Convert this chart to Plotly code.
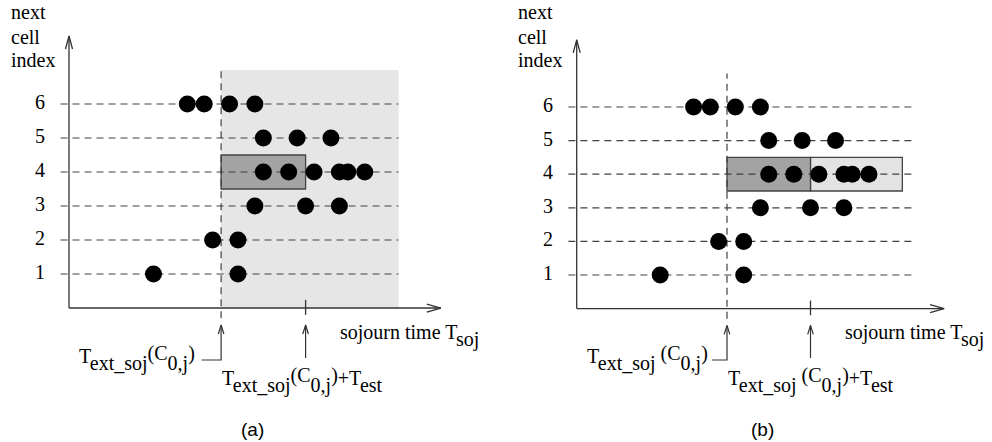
import plotly.graph_objects as go

# ---------------- data ----------------
ROWS = [1, 2, 3, 4, 5, 6]
TICK_LABELS = ["1", "2", "3", "4", "5", "6"]
# sojourn times of observed handoffs, per next-cell index
ROW1 = [5, 10]
ROW2 = [8.5, 10]
ROW3 = [11, 14, 16]
ROW4 = [11.5, 13, 14.5, 16, 16.5, 17.5]
ROW5 = [11.5, 13.5, 15.5]
ROW6 = [7, 8, 9.5, 11]
ROW_POINTS = [ROW1, ROW2, ROW3, ROW4, ROW5, ROW6]

T_EXT = 9          # T_ext_soj(C_0,j)
T_EST = 5          # T_est
WINDOW_END = 19.5  # end of the considered window
HIGHLIGHT_ROW = 4
Y_TOP = 7
Y_LABEL_LINES = ["next", "cell", "index"]

SERIF = "Liberation Serif"
SANS = "Liberation Sans"
AX_COL = "#333333"
DASH_COL = "#404040"
FS = 20


def sub(t):
    return '<span style="baseline-shift:-7px">' + t + '</span>'


def sup(t):
    return '<span style="baseline-shift:3px">' + t + '</span>'


fig = go.Figure()

panels = [
    dict(xa="x", ya="y", sx=16.9, sy=34.0, y0px=308.0, grid_end=19.5, conn=7.85, sp=""),
    dict(xa="x2", ya="y2", sx=16.7, sy=33.6, y0px=308.6, grid_end=20.1, conn=8.1, sp=" "),
]

shapes = []
annotations = []

for i, p in enumerate(panels):
    xa, ya = p["xa"], p["ya"]
    sx, sy = p["sx"], p["sy"]
    hw_x, hl_y = 3.5 / sx, 13 / sy
    hw_y, hl_x = 4.0 / sy, 14 / sx

    def ypx(px):
        return (p["y0px"] - px) / sy

    if i == 0:
        shapes.append(dict(type="rect", xref=xa, yref=ya, x0=T_EXT, x1=WINDOW_END,
                           y0=0, y1=Y_TOP, fillcolor="#e6e6e6", line_width=0, layer="below"))
    else:
        shapes.append(dict(type="rect", xref=xa, yref=ya, x0=T_EXT + T_EST, x1=WINDOW_END,
                           y0=HIGHLIGHT_ROW - 0.5, y1=HIGHLIGHT_ROW + 0.5,
                           fillcolor="#e3e3e3", line=dict(color="#444", width=1.3), layer="below"))
    shapes.append(dict(type="rect", xref=xa, yref=ya, x0=T_EXT, x1=T_EXT + T_EST,
                       y0=HIGHLIGHT_ROW - 0.5, y1=HIGHLIGHT_ROW + 0.5,
                       fillcolor="#a3a3a3", line=dict(color="#444", width=1.3), layer="below"))

    # dashed row lines
    gx, gy = [], []
    for r in ROWS:
        gx += [-0.5, p["grid_end"], None]
        gy += [r, r, None]
    fig.add_trace(go.Scatter(x=gx, y=gy, mode="lines", xaxis=xa, yaxis=ya,
                             line=dict(color=DASH_COL, width=1.2, dash="7px,5px"),
                             hoverinfo="skip"))
    fig.add_trace(go.Scatter(x=[T_EXT, T_EXT], y=[-0.3, Y_TOP], mode="lines", xaxis=xa, yaxis=ya,
                             line=dict(color=DASH_COL, width=1.2, dash="7px,5px"),
                             hoverinfo="skip"))

    # axes with open arrow heads
    ax_x = [0, 0, None, -hw_x, 0, hw_x, None, 0, 22, None, 22 - hl_x, 22, 22 - hl_x,
            None, T_EXT + T_EST, T_EXT + T_EST]
    ax_y = [0, 8, None, 8 - hl_y, 8, 8 - hl_y, None, 0, 0, None, hw_y, 0, -hw_y,
            None, -0.2, 0.24]
    fig.add_trace(go.Scatter(x=ax_x, y=ax_y, mode="lines", xaxis=xa, yaxis=ya,
                             line=dict(color=AX_COL, width=1.3), hoverinfo="skip"))

    # label connectors
    tip = -0.5
    hl2 = 9 / sy
    hw2 = 2.8 / sx
    cx = [p["conn"], T_EXT, T_EXT, None, T_EXT - hw2, T_EXT, T_EXT + hw2, None,
          T_EXT + T_EST, T_EXT + T_EST, None,
          T_EXT + T_EST - hw2, T_EXT + T_EST, T_EXT + T_EST + hw2]
    cy = [-1.53, -1.53, tip, None, tip - hl2, tip, tip - hl2, None,
          -1.47, tip, None, tip - hl2, tip, tip - hl2]
    fig.add_trace(go.Scatter(x=cx, y=cy, mode="lines", xaxis=xa, yaxis=ya,
                             line=dict(color=AX_COL, width=1.2), hoverinfo="skip"))

    # dots
    dx, dy = [], []
    for r, pts in zip(ROWS, ROW_POINTS):
        dx += pts
        dy += [r] * len(pts)
    fig.add_trace(go.Scatter(x=dx, y=dy, mode="markers", xaxis=xa, yaxis=ya,
                             marker=dict(color="black", size=17, line_width=0),
                             hoverinfo="skip"))

    # tick labels
    fig.add_trace(go.Scatter(x=[-1.72] * len(ROWS), y=ROWS, text=TICK_LABELS, mode="text",
                             xaxis=xa, yaxis=ya, textfont=dict(family=SERIF, size=FS, color="black"),
                             hoverinfo="skip"))

    font = dict(family=SERIF, size=FS, color="black")
    for line, base in zip(Y_LABEL_LINES, [19, 44, 67]):
        annotations.append(dict(xref=xa, yref=ya, x=-3.5 + (0 if i == 0 else -0.05), y=ypx(base - 6.8),
                                xanchor="left", yanchor="middle", text=line,
                                showarrow=False, font=font, borderpad=0))
    annotations.append(dict(xref=xa, yref=ya, x=16.0, y=ypx(336), xanchor="left", yanchor="middle",
                            text="sojourn time T" + sub("soj"), showarrow=False, font=font, borderpad=0))
    annotations.append(dict(xref=xa, yref=ya, x=0.55, y=ypx(358), xanchor="left", yanchor="middle",
                            text="T" + sub("ext_soj") + p["sp"] + sup("(C") + sub("0,j") + sup(")"),
                            showarrow=False, font=font, borderpad=0))
    annotations.append(dict(xref=xa, yref=ya, x=9.0, y=ypx(380), xanchor="left", yanchor="middle",
                            text="T" + sub("ext_soj") + p["sp"] + sup("(C") + sub("0,j") + sup(")")
                            + "+T" + sub("est"),
                            showarrow=False, font=font, borderpad=0))

annotations.append(dict(xref="paper", yref="paper", x=0.255, y=0.029, xanchor="center",
                        yanchor="middle", text="(a)", showarrow=False,
                        font=dict(family=SANS, size=19, color="black")))
annotations.append(dict(xref="paper", yref="paper", x=0.769, y=0.029, xanchor="center",
                        yanchor="middle", text="(b)", showarrow=False,
                        font=dict(family=SANS, size=19, color="black")))

ax_common = dict(visible=False, showgrid=False, zeroline=False, fixedrange=True)
fig.update_layout(
    width=992, height=442, autosize=False,
    margin=dict(l=0, r=0, t=0, b=0),
    paper_bgcolor="white", plot_bgcolor="white",
    showlegend=False,
    shapes=shapes, annotations=annotations,
    xaxis=dict(domain=[0, 0.5], range=[-69 / 16.9, (496 - 69) / 16.9], anchor="y", **ax_common),
    yaxis=dict(domain=[0, 1], range=[-(442 - 308) / 34.0, 308 / 34.0], anchor="x", **ax_common),
    xaxis2=dict(domain=[0.5, 1], range=[-(576.7 - 496) / 16.7, (992 - 576.7) / 16.7], anchor="y2", **ax_common),
    yaxis2=dict(domain=[0, 1], range=[-(442 - 308.6) / 33.6, 308.6 / 33.6], anchor="x2", **ax_common),
)

fig.write_html("out.html")
